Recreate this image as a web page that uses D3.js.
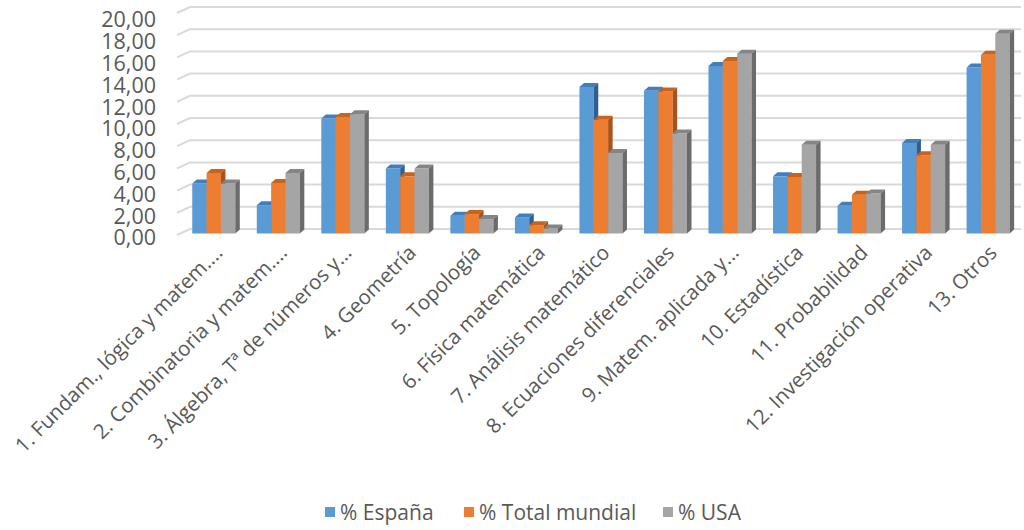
<!DOCTYPE html>
<html><head><meta charset="utf-8">
<script src="https://cdn.jsdelivr.net/npm/d3@7"></script>
<style>body{margin:0;background:#fff}svg{display:block}text{font-family:"Open Sans",sans-serif;fill:#595959}</style>
</head><body>
<svg id="c" width="1024" height="530"></svg>
<script>
const categories = ["1. Fundam., lógica y matem....","2. Combinatoria y matem....","3. Álgebra, Tª de números y...","4. Geometría","5. Topología","6. Física matemática","7. Análisis matemático","8. Ecuaciones diferenciales","9. Matem. aplicada y...","10. Estadística","11. Probabilidad","12. Investigación operativa","13. Otros"];
const seriesNames = ["% España","% Total mundial","% USA"];
const espana  = [4.5, 2.55, 10.35, 5.85, 1.6, 1.45, 13.2, 12.85, 15.1, 5.15, 2.5, 8.15, 14.95];
const mundial = [5.45, 4.55, 10.5, 5.15, 1.75, 0.75, 10.25, 12.8, 15.55, 5.1, 3.5, 7.05, 16.1];
const usa     = [4.5, 5.45, 10.75, 5.85, 1.3, 0.45, 7.25, 9.0, 16.2, 8.0, 3.6, 8.0, 18.0];
const yTicks = [0,2,4,6,8,10,12,14,16,18,20];

const svg = d3.select("#c");
const series = [espana, mundial, usa];
const front = ["#5B9BD5","#ED7D31","#A5A5A5"];
const top_ = ["#3F7FBF","#C9621C","#858585"];
const side = ["#2F5F8E","#A9521A","#6B6B6B"];

const y = d3.scaleLinear().domain([0,20]).range([233.5,11.5]);
const yLab = d3.scaleLinear().domain([0,20]).range([238,20]);
const x = d3.scaleBand().domain(categories).range([181.5,1020.4]).paddingInner(0.333).paddingOuter(0.1667);
const x1 = d3.scaleBand().domain(seriesNames).range([0,x.bandwidth()]);
const dx = 4.5, dy = 4;

const loc = d3.formatLocale({decimal:",",thousands:".",grouping:[3],currency:["","€"]});
const fmt = loc.format(".2f");

// gridlines
const grid = svg.append("g");
yTicks.forEach(t=>{
  const yy = y(t);
  grid.append("polyline")
    .attr("points", `177,${yy+1.5} 190,${yy-4.5} 1021,${yy-4.5}`)
    .attr("fill","none").attr("stroke","#D9D9D9").attr("stroke-width",2);
});

// y axis labels
const ya = svg.append("g").attr("transform","translate(156,0)")
  .call(d3.axisLeft(yLab).tickValues(yTicks).tickFormat(fmt).tickSize(0).tickPadding(0));
ya.select(".domain").remove();
ya.selectAll("text").style("font-family","'Open Sans',sans-serif").style("font-size","21.5px").attr("fill","#595959");

// bars
const bars = svg.append("g");
categories.forEach((c,i)=>{
  series.forEach((s,k)=>{
    const v = s[i];
    const x0 = x(c)+x1(seriesNames[k]);
    const w = x1.bandwidth();
    const yt = y(v), yb = y(0);
    const g = bars.append("g");
    g.append("rect").attr("x",x0).attr("y",yt).attr("width",w).attr("height",yb-yt).attr("fill",front[k]);
    g.append("polygon").attr("points",`${x0},${yt} ${x0+dx},${yt-dy} ${x0+w+dx},${yt-dy} ${x0+w},${yt}`).attr("fill",top_[k]);
    g.append("polygon").attr("points",`${x0+w},${yt} ${x0+w+dx},${yt-dy} ${x0+w+dx},${yb-dy} ${x0+w},${yb}`).attr("fill",side[k]);
  });
});

// x labels
const xl = svg.append("g");
categories.forEach(c=>{
  const cx = x(c)+x.bandwidth()/2 + 10;
  xl.append("text").attr("transform",`translate(${cx},254) rotate(-45)`)
    .attr("text-anchor","end").style("font-size","20.5px").text(c);
});

// legend
const legX = [325, 464, 663];
const lg = svg.append("g");
seriesNames.forEach((n,k)=>{
  lg.append("rect").attr("x",legX[k]).attr("y",507).attr("width",10).attr("height",10).attr("fill",front[k]);
  lg.append("text").attr("x",legX[k]+15).attr("y",519.5).style("font-size","21px").text(n);
});
</script>
</body></html>
